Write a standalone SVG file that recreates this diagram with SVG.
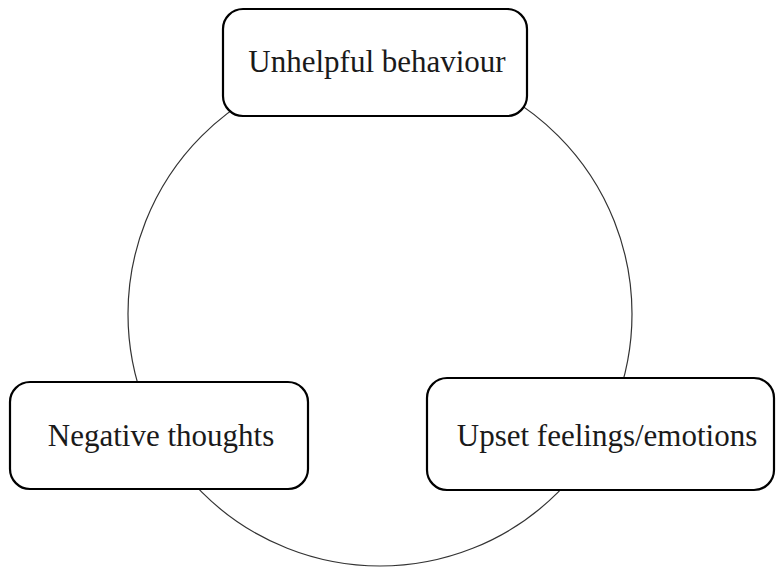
<svg xmlns="http://www.w3.org/2000/svg" width="776" height="569" viewBox="0 0 776 569">
  <style>
    .box { fill: #ffffff; stroke: #000000; stroke-width: 2.2; }
    .lbl { font-size: 31px; fill: #1a1a1a; text-anchor: middle; }
    .cycle { fill: none; stroke: #333333; stroke-width: 1.2; }
  </style>
  <rect width="776" height="569" fill="#ffffff"/>
  <g id="connectors">
    <circle class="cycle" cx="380" cy="314" r="252"/>
  </g>
  <g id="node-behaviour">
    <rect class="box" x="223" y="9" width="304" height="107" rx="20" ry="20"/>
    <text class="lbl" font-family="Liberation Serif, DejaVu Serif, serif" x="377" y="72">Unhelpful behaviour</text>
  </g>
  <g id="node-thoughts">
    <rect class="box" x="10" y="382" width="298" height="107" rx="20" ry="20"/>
    <text class="lbl" font-family="Liberation Serif, DejaVu Serif, serif" x="161" y="446">Negative thoughts</text>
  </g>
  <g id="node-feelings">
    <rect class="box" x="427" y="378" width="347" height="112" rx="20" ry="20"/>
    <text class="lbl" font-family="Liberation Serif, DejaVu Serif, serif" x="607" y="446">Upset feelings/emotions</text>
  </g>
</svg>
